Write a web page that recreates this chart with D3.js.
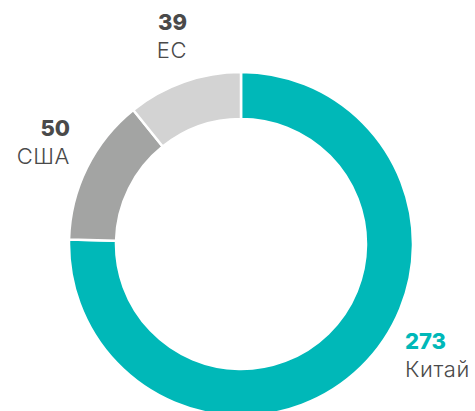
<!DOCTYPE html>
<html>
<head>
<meta charset="utf-8">
<script src="https://cdn.jsdelivr.net/npm/d3@7"></script>
<style>
html,body{margin:0;padding:0;background:#fff;}
svg{display:block;}
</style>
</head>
<body>
<svg id="chart" width="475" height="411"></svg>
<script>
const categories = ["Китай", "США", "ЕС"];
const values = [273, 50, 39];
const colors = ["#00b8b8", "#a3a4a3", "#d3d3d3"];
const valueColors = ["#00b8b8", "#4a4a4a", "#4a4a4a"];

const svg = d3.select("#chart");
const cx = 241, cy = 244, rOuter = 172, rInner = 125;

const data = categories.map((c, i) => ({ cat: c, value: values[i], color: colors[i], vcolor: valueColors[i] }));
const pie = d3.pie().value(d => d.value).sort(null);
const arc = d3.arc().innerRadius(rInner).outerRadius(rOuter);
const arcs = pie(data);

const g = svg.append("g").attr("transform", `translate(${cx},${cy})`);
g.selectAll("path").data(arcs).enter().append("path")
  .attr("d", arc)
  .attr("fill", d => d.data.color)
  .attr("stroke", "#fff")
  .attr("stroke-width", 2.5);

const labelPos = [
  { x: 405, y: 349, anchor: "start" },
  { x: 70, y: 136, anchor: "end" },
  { x: 187, y: 30, anchor: "end" }
];

arcs.forEach((d, i) => {
  const p = labelPos[i];
  svg.append("text")
    .attr("x", p.x).attr("y", p.y)
    .attr("text-anchor", p.anchor)
    .attr("font-family", "Inter, 'Noto Sans', sans-serif")
    .attr("font-weight", 800)
    .attr("font-size", 22)
    .attr("fill", d.data.vcolor)
    .text(d.data.value);
  svg.append("text")
    .attr("x", p.x).attr("y", p.y + 28)
    .attr("text-anchor", p.anchor)
    .attr("font-family", "Inter, 'Noto Sans', sans-serif")
    .attr("font-weight", 300)
    .attr("font-size", 22)
    .attr("letter-spacing", 0.6)
    .attr("fill", "#4a4a4a")
    .text(d.data.cat);
});
</script>
</body>
</html>
